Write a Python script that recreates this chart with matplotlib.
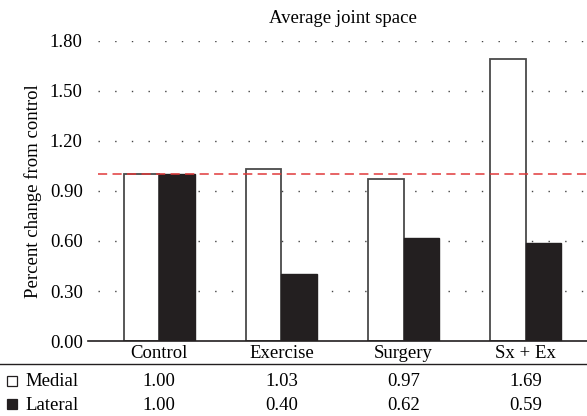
import matplotlib.pyplot as plt
import matplotlib.transforms as mtransforms
from matplotlib.lines import Line2D
import numpy as np

plt.rcParams['font.family'] = ['Liberation Serif', 'DejaVu Serif']

# Data
groups = ['Control', 'Exercise', 'Surgery', 'Sx + Ex']
medial = [1.00, 1.03, 0.97, 1.69]
lateral = [1.00, 0.40, 0.62, 0.59]
yticks = [0.00, 0.30, 0.60, 0.90, 1.20, 1.50, 1.80]

W, H = 587, 416
fs = 13.5
fig = plt.figure(figsize=(W / 100, H / 100), dpi=100)
ax = fig.add_axes([98 / W, 1 - 341 / H, 1 - 98 / W, 300 / H])

x = np.arange(len(groups))
bw = 0.29
ax.bar(x - bw / 2, medial, bw, color='white', edgecolor='#4a4a4a', linewidth=1.3, zorder=3)
ax.bar(x + bw / 2, lateral, bw, color='#231f20', edgecolor='#231f20', linewidth=1.0, zorder=3)

ax.axhline(1.0, color='#e0393a', linestyle=(0, (6, 3.5)), linewidth=1.1, zorder=4)

ax.set_xlim(-0.5, len(groups) - 0.5)
ax.set_ylim(0, 1.8)
ax.set_yticks(yticks)
ax.set_yticklabels([f'{v:.2f}' for v in yticks], fontsize=fs)
ax.tick_params(axis='y', length=0, pad=11)
ax.set_xticks([])
for yv in yticks[1:]:
    ax.axhline(yv, color='#444444', linestyle=(0, (1, 11)), linewidth=1.0, zorder=1)

for s in ['top', 'right', 'left', 'bottom']:
    ax.spines[s].set_visible(False)

# baseline extended to the left
fig.add_artist(Line2D([88 / W, 1], [1 - 341 / H, 1 - 341 / H], color='#231f20', linewidth=1.2))
# line under category labels
fig.add_artist(Line2D([0, 1], [1 - 364 / H, 1 - 364 / H], color='#231f20', linewidth=1.0))

ax.set_title('Average joint space', fontsize=fs, pad=13)
ax.set_ylabel('Percent change from control', fontsize=fs, labelpad=6)

trans = mtransforms.blended_transform_factory(ax.transData, fig.transFigure)
for i, g in enumerate(groups):
    ax.text(i, 1 - 353 / H, g, transform=trans, ha='center', va='center', fontsize=fs)
    ax.text(i, 1 - 382 / H, f'{medial[i]:.2f}', transform=trans, ha='center', va='center', fontsize=fs)
    ax.text(i, 1 - 405 / H, f'{lateral[i]:.2f}', transform=trans, ha='center', va='center', fontsize=fs)

fig.text(25 / W, 1 - 382 / H, 'Medial', ha='left', va='center', fontsize=fs)
fig.text(25 / W, 1 - 405 / H, 'Lateral', ha='left', va='center', fontsize=fs)
fig.add_artist(Line2D([12 / W], [1 - 381 / H], marker='s', markersize=7.5, markerfacecolor='white',
                      markeredgecolor='#231f20', markeredgewidth=0.9, linestyle='none'))
fig.add_artist(Line2D([12 / W], [1 - 404 / H], marker='s', markersize=7.5, markerfacecolor='#231f20',
                      markeredgecolor='#231f20', markeredgewidth=0.9, linestyle='none'))

fig.savefig('out.png', dpi=100)
